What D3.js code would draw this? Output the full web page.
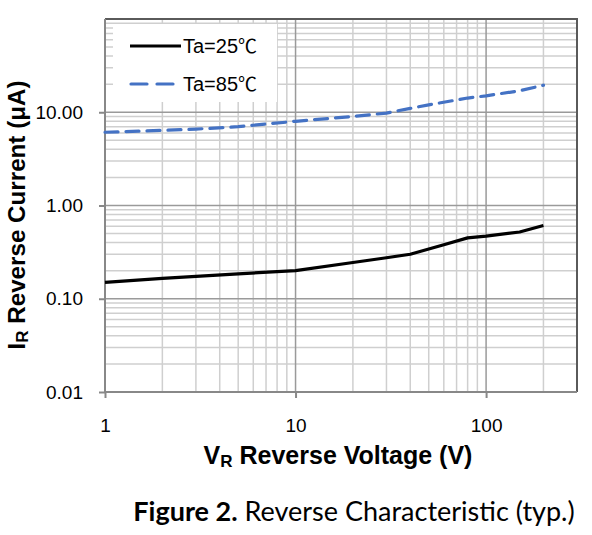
<!DOCTYPE html>
<html><head><meta charset="utf-8">
<script src="https://cdn.jsdelivr.net/npm/d3@7"></script>
<style>body{margin:0;background:#fff}svg{display:block}</style>
</head><body>
<svg id="c" width="592" height="535"></svg>
<script>
const voltage25 = [1, 2, 5, 10, 20, 30, 40, 60, 80, 100, 150, 200];
const current25 = [0.15, 0.165, 0.185, 0.20, 0.245, 0.275, 0.30, 0.38, 0.45, 0.47, 0.52, 0.61];
const voltage85 = [1, 2, 3, 5, 10, 20, 30, 40, 50, 80, 100, 150, 200];
const current85 = [6.1, 6.4, 6.6, 7.0, 8.0, 9.0, 9.8, 11.0, 12.0, 14.2, 15.0, 17.0, 19.5];
const xTicks = [1, 10, 100];
const yTicks = [0.01, 0.1, 1, 10];
const seriesNames = ["Ta=25", "Ta=85"];

const FONT = "Liberation Sans, Arial, sans-serif";
const svg = d3.select("#c");
const L = 105, R = 577, T = 19, B = 392;
const x = d3.scaleLog().domain([1, 300]).range([L, R]);
const y = d3.scaleLog().domain([0.01, 100]).range([B, T]);

const xMinor = [];
for (let d = 1; d <= 100; d *= 10) for (let k = 2; k <= 9; k++) { const v = d * k; if (v < 300) xMinor.push(v); }
const yMinor = [];
for (let d = 0.01; d < 100; d *= 10) for (let k = 2; k <= 9; k++) yMinor.push(+(d * k).toPrecision(3));

const g = svg.append("g");
g.selectAll(".xm").data(xMinor).enter().append("line")
  .attr("x1", d => x(d)).attr("x2", d => x(d)).attr("y1", T).attr("y2", B)
  .attr("stroke", "#cfcfcf").attr("stroke-width", 1.5);
g.selectAll(".ym").data(yMinor).enter().append("line")
  .attr("y1", d => y(d)).attr("y2", d => y(d)).attr("x1", L).attr("x2", R)
  .attr("stroke", "#cfcfcf").attr("stroke-width", 1.5);
g.selectAll(".xM").data([10, 100]).enter().append("line")
  .attr("x1", d => x(d)).attr("x2", d => x(d)).attr("y1", T).attr("y2", B)
  .attr("stroke", "#9a9a9a").attr("stroke-width", 1.5);
g.selectAll(".yM").data([0.1, 1, 10]).enter().append("line")
  .attr("y1", d => y(d)).attr("y2", d => y(d)).attr("x1", L).attr("x2", R)
  .attr("stroke", "#9a9a9a").attr("stroke-width", 1.5);

svg.append("path").attr("d", `M${L},${T}H${R}V${B}`).attr("fill", "none")
  .attr("stroke", "#5a5a5a").attr("stroke-width", 2);

const xAxis = d3.axisBottom(x).tickValues(xTicks).tickFormat(d3.format("d")).tickSize(6).tickPadding(21);
const yAxis = d3.axisLeft(y).tickValues(yTicks).tickFormat(d3.format(".2f")).tickSize(6).tickPadding(16);
const gx = svg.append("g").attr("transform", `translate(0,${B})`).call(xAxis);
const gy = svg.append("g").attr("transform", `translate(${L},0)`).call(yAxis);
[gx, gy].forEach(a => {
  a.attr("font-family", FONT).attr("font-size", 19);
  a.select(".domain").attr("stroke", "#888").attr("stroke-width", 2);
  a.selectAll(".tick line").attr("stroke", "#888").attr("stroke-width", 2);
  a.selectAll(".tick text").attr("fill", "#000");
});
gy.select(".domain").attr("d", `M0,${B}V${T}`);
gx.select(".domain").attr("d", `M${L},0H${R}`);

const line = d3.line().x(d => x(d[0])).y(d => y(d[1]));
svg.append("path").datum(d3.zip(voltage25, current25)).attr("d", line)
  .attr("fill", "none").attr("stroke", "#000").attr("stroke-width", 3.2).attr("stroke-linejoin", "round");
svg.append("path").datum(d3.zip(voltage85, current85)).attr("d", line)
  .attr("fill", "none").attr("stroke", "#4472c4").attr("stroke-width", 3.2)
  .attr("stroke-dasharray", "13,8").attr("stroke-linecap", "round");

const lg = svg.append("g");
lg.append("rect").attr("x", 113).attr("y", 24).attr("width", 164).attr("height", 78).attr("fill", "#fff");
lg.append("line").attr("x1", 130).attr("x2", 181).attr("y1", 46).attr("y2", 46)
  .attr("stroke", "#000").attr("stroke-width", 3.2);
lg.append("line").attr("x1", 131).attr("x2", 180).attr("y1", 84).attr("y2", 84)
  .attr("stroke", "#4472c4").attr("stroke-width", 3.2).attr("stroke-dasharray", "16,10").attr("stroke-linecap", "round");
const lt = lg.selectAll("text").data(seriesNames).enter().append("text")
  .attr("x", 183).attr("y", (d, i) => 53 + i * 38)
  .attr("font-family", FONT).attr("font-size", 20).attr("fill", "#000");
lt.append("tspan").text(d => d);
lt.append("tspan").attr("font-family", "Noto Sans CJK SC").attr("font-size", 19).text("℃");

const xt = svg.append("text").attr("x", 338).attr("y", 464).attr("text-anchor", "middle")
  .attr("font-family", FONT).attr("font-size", 25).attr("font-weight", "bold");
xt.append("tspan").text("V");
xt.append("tspan").attr("font-size", 17).attr("dy", 3).text("R");
xt.append("tspan").attr("dy", -3).text(" Reverse Voltage (V)");

const yt = svg.append("text").attr("transform", "translate(25,215) rotate(-90)").attr("text-anchor", "middle")
  .attr("font-family", FONT).attr("font-size", 24.2).attr("font-weight", "bold");
yt.append("tspan").text("I");
yt.append("tspan").attr("font-size", 17).attr("dy", 3).text("R");
yt.append("tspan").attr("dy", -3).text(" Reverse Current (μA)");

const cap = svg.append("text").attr("x", 354).attr("y", 521).attr("text-anchor", "middle")
  .attr("font-family", "Lato, sans-serif").attr("font-size", 27).attr("fill", "#000");
cap.append("tspan").attr("font-weight", "bold").text("Figure 2.");
cap.append("tspan").text(" Reverse Characteristic (typ.)");
</script>
</body></html>
